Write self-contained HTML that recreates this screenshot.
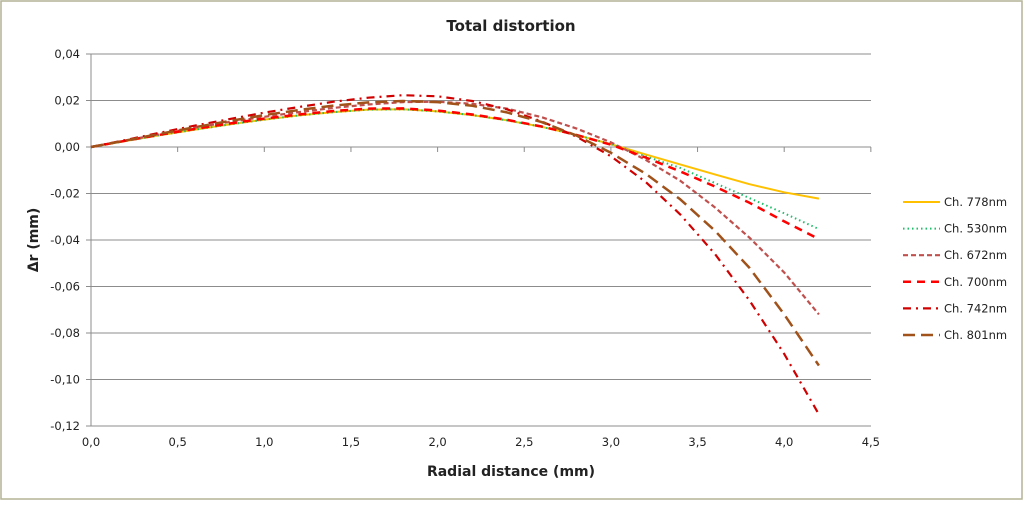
<!DOCTYPE html>
<html><head><meta charset="utf-8"><style>
body{margin:0;background:#fff}
svg text{font-family:"DejaVu Sans","Liberation Sans",sans-serif;fill:#222}
</style></head><body>
<svg width="1024" height="501" xmlns="http://www.w3.org/2000/svg">
<rect x="1" y="1" width="1021" height="498" fill="#fff" stroke="#b4b496" stroke-width="1.5"/>
<text x="511" y="31" text-anchor="middle" font-size="15" font-weight="bold">Total distortion</text>
<g id="grid"></g><g id="series"></g><g id="legend"></g>
<text x="511" y="476" text-anchor="middle" font-size="14" font-weight="bold">Radial distance (mm)</text>
<text transform="translate(38,240) rotate(-90)" text-anchor="middle" font-size="14" font-weight="bold">Δr (mm)</text>
</svg>
<script>
const xVals=[0,0.2,0.4,0.6,0.8,1.0,1.2,1.4,1.6,1.8,2.0,2.2,2.4,2.6,2.8,3.0,3.2,3.4,3.6,3.8,4.0,4.2];
const s778=[0,.0026,.0051,.0075,.0097,.0118,.0136,.015,.0161,.0162,.0153,.0137,.0115,.0087,.0052,.0012,-.0032,-.0075,-.0118,-.016,-.0195,-.0222];
const s530=[0,.0026,.0051,.0075,.0097,.0118,.0136,.015,.0161,.0162,.0153,.0137,.0115,.0087,.0052,.0012,-.004,-.009,-.0155,-.022,-.0285,-.0353];
const s672=[0,.0028,.0056,.0083,.0108,.013,.015,.0168,.0183,.0193,.0195,.0186,.0165,.0128,.008,.002,-.0055,-.0145,-.026,-.039,-.054,-.072];
const s700=[0,.0027,.0053,.0078,.0101,.0122,.014,.0155,.0165,.0166,.0157,.014,.0117,.0088,.0052,.001,-.0045,-.0105,-.017,-.024,-.032,-.0396];
const s742=[0,.003,.0062,.0092,.012,.0148,.0172,.0195,.0212,.0223,.0218,.0198,.0162,.011,.0045,-.004,-.015,-.029,-.046,-.066,-.089,-.115];
const s801=[0,.0028,.0057,.0085,.0112,.0137,.0159,.0178,.0192,.0198,.0193,.0177,.0149,.0107,.005,-.0025,-.0115,-.0225,-.036,-.052,-.072,-.094];
const seriesNames=["Ch. 778nm","Ch. 530nm","Ch. 672nm","Ch. 700nm","Ch. 742nm","Ch. 801nm"];
const xTicks=[0,0.5,1,1.5,2,2.5,3,3.5,4,4.5];
const yTicks=[0.04,0.02,0,-0.02,-0.04,-0.06,-0.08,-0.10,-0.12];
const NS="http://www.w3.org/2000/svg";
const X=v=>91+v*173.3, Y=v=>147-v/0.02*46.5;
function mk(t,a,p){const e=document.createElementNS(NS,t);for(const k in a)e.setAttribute(k,a[k]);p.appendChild(e);return e;}
const g=document.getElementById('grid');
yTicks.forEach(v=>{
 const l=mk('line',{x1:86,x2:871,y1:Y(v),y2:Y(v),stroke:'#8c8c8c','stroke-width':1},g);
 
 
 const t=mk('text',{x:80,y:Y(v)+4,'text-anchor':'end','font-size':11.5},g);
 
 
 t.textContent=v.toFixed(2).replace('.',',');
});
const ya=mk('line',{x1:91,x2:91,y1:Y(0.04),y2:Y(-0.12),stroke:'#8c8c8c'},g);


xTicks.forEach(v=>{
 const l=mk('line',{x1:X(v),x2:X(v),y1:147,y2:152,stroke:'#8c8c8c'},g);
 
 
 const t=mk('text',{x:X(v),y:446,'text-anchor':'middle','font-size':11.5},g);
 
 
 t.textContent=v.toFixed(1).replace('.',',');
});
const styles=[
 {c:'#ffc000',d:'',w:2},
 {c:'#1fbf6a',d:'1.5 3',w:2},
 {c:'#c0504d',d:'5 3',w:2.2},
 {c:'#ff0000',d:'8 6',w:2.5},
 {c:'#d00000',d:'8 5 2 5',w:2.2},
 {c:'#a0521a',d:'12 6',w:2.5}];
const data=[s778,s530,s672,s700,s742,s801];
const sg=document.getElementById('series'), lg=document.getElementById('legend');
data.forEach((s,i)=>{
 const d=s.map((v,j)=>(j?'L':'M')+X(xVals[j]).toFixed(1)+','+Y(v).toFixed(1)).join('');
 const p=mk('path',{d:d,fill:'none',stroke:styles[i].c,'stroke-width':styles[i].w,'stroke-dasharray':styles[i].d,'stroke-linejoin':'round'},sg);
 
 
 const y=202+i*26.6;
 const ll=mk('line',{x1:903,x2:940,y1:y,y2:y,stroke:styles[i].c,'stroke-width':styles[i].w,'stroke-dasharray':styles[i].d},lg);
 
 
 const t=mk('text',{x:944,y:y+4,'font-size':11.5},lg);
 
 
 t.textContent=seriesNames[i];
});
</script>
</body></html>
